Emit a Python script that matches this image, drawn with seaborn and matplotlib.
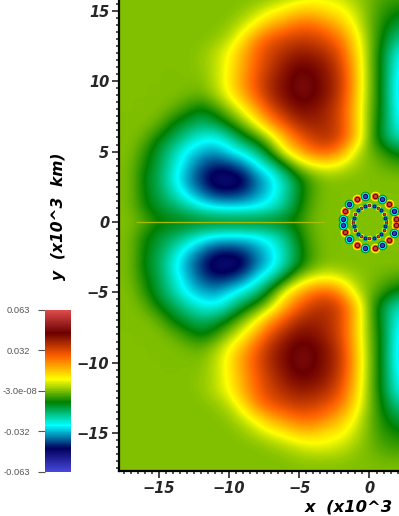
import numpy as np
import pandas as pd
import matplotlib
matplotlib.use("Agg")
import matplotlib.pyplot as plt
from matplotlib.colors import LinearSegmentedColormap, Normalize
from matplotlib.font_manager import FontProperties
from matplotlib.ticker import MultipleLocator
from matplotlib.transforms import ScaledTranslation
import seaborn as sns

# Field, in units of 0.001, columns x = -18..3, rows y = 18..0 (x10^3 km).
x_nodes = list(range(-18, 4))
upper_rows = [
    [0,0,0,0,0,0,0,0,0,0,0,0,0,0,0,0,0,0,0,0,0,0],
    [0,0,0,0,0,0,0,0,0,0,0,0,0,1,1,1,1,0,0,-1,-1,-1],
    [0,0,0,0,0,0,0,0,0,0,0,1,3,5,7,7,5,2,-1,-4,-5,-5],
    [0,0,0,0,0,0,0,0,0,1,4,8,11,15,15,12,10,5,-1,-6,-8,-9],
    [0,0,0,0,0,0,0,0,1,5,11,18,22,26,26,22,16,8,-1,-8,-13,-15],
    [0,0,0,0,0,0,0,1,4,12,23,29,32,34,33,30,24,12,0,-10,-18,-22],
    [0,0,0,0,0,0,1,4,9,18,27,33,37,40,39,36,29,15,0,-12,-25,-29],
    [0,0,0,0,0,0,1,4,10,19,28,35,41,45,44,40,32,17,0,-12,-27,-32],
    [0,0,0,0,0,0,0,4,11,21,30,38,43,48,46,41,34,18,0,-12,-29,-35],
    [0,0,0,0,0,-1,-2,2,9,18,28,37,43,47,46,41,33,17,0,-12,-29,-35],
    [0,0,0,0,-2,-6,-10,-6,1,9,20,31,38,43,42,38,31,16,-1,-12,-28,-33],
    [0,0,0,-2,-9,-13,-16,-14,-8,0,9,21,30,37,39,37,31,16,-1,-13,-26,-30],
    [0,0,-2,-9,-14,-20,-25,-26,-21,-12,-5,5,18,28,34,36,31,17,-2,-14,-22,-24],
    [0,0,-6,-13,-20,-28,-32,-34,-29,-24,-18,-6,9,18,26,28,21,6,-1,-6,-11,-12],
    [0,-1,-8,-14,-23,-31,-39,-43,-42,-37,-28,-21,-10,2,7,9,6,2,0,-2,-4,-4],
    [0,-1,-10,-15,-25,-34,-42,-49,-50,-47,-37,-30,-21,-11,-3,0,0,0,0,0,0,0],
    [0,-1,-9,-14,-21,-29,-36,-42,-43,-41,-35,-29,-21,-11,-3,0,0,0,0,0,0,0],
    [0,-1,-8,-12,-15,-19,-24,-27,-28,-28,-27,-24,-18,-9,-2,0,0,0,0,0,0,0],
    [0,0,-3,-8,-9,-9,-9,-9,-9,-9,-9,-9,-9,-6,-1,0,0,0,0,0,0,0],
]
# Rings near the origin: polar angles in degrees and sign of each lobe.
outer_ring_radius = 1.9
outer_pos_angles = [79, 43, 6.4, -6.4, -43, -79, -119, -157, 157, 119]
outer_neg_angles = [99, 61, 25, -25, -61, -99, -139, -174, 174, 139]
inner_ring_radius = 1.17
inner_pos_angles = [3, -3, 30, 60, 90, 120, 150, 177, 183, 210, 240, 270, 300, 330]
inner_neg_angles = [15, 45, 75, 105, 135, 165, 195, 225, 255, 285, 315, 345]
cut_line_x = [-16.6, -3.2]
cbar_labels = ['0.063', '0.032', '-3.0e-08', '-0.032', '-0.063']
vmax = 0.063

sns.set_style("white")
W, H = 399, 516
fig = plt.figure(figsize=(W / 100, H / 100), dpi=100, facecolor='white')

colors = [(71,71,219),(0,0,92),(0,255,255),(0,128,0),(255,255,0),(255,97,0),(107,0,0),(224,77,77)]
cmap = LinearSegmentedColormap.from_list('rainbow_desat', [tuple(c/255 for c in col) for col in colors], N=512)
norm = Normalize(-vmax, vmax)

ax = fig.add_axes([119/W, (H-471)/H, 280/W, 471/H])
upper = np.array(upper_rows) * 0.001
field = np.vstack([upper, upper[-2::-1]])
ax.imshow(field, extent=[-18.5, 3.5, -18.5, 18.5], origin='upper', cmap=cmap, norm=norm,
          interpolation='bicubic', interpolation_stage='data', aspect='auto')
ax.set_xlim(-17.83, 2.1)
ax.set_ylim(-17.7, 15.77)

ax.plot(cut_line_x, [0, 0], color=(0.66, 0.74, 0.0), lw=0.9, solid_capstyle='butt', zorder=3)


def ring(angles, radius):
    a = np.deg2rad(np.array(angles))
    return pd.DataFrame({'x': radius * np.cos(a), 'y': radius * np.sin(a)})


def lobes(frame, layers):
    for level, px in layers:
        sns.scatterplot(data=frame, x='x', y='y', ax=ax, s=(px * 0.72) ** 2, marker='o',
                        color=cmap(norm(level)), linewidth=0, legend=False, zorder=4)


lobes(ring(outer_pos_angles, outer_ring_radius), [(0.009, 9.6), (0.027, 7.4), (0.045, 5.4), (0.06, 3.4)])
lobes(ring(outer_neg_angles, outer_ring_radius), [(-0.012, 9.6), (-0.027, 7.4), (-0.045, 5.4), (-0.06, 3.4)])
lobes(ring(inner_pos_angles, inner_ring_radius), [(0.009, 5.4), (0.045, 3.6), (0.06, 2.2)])
lobes(ring(inner_neg_angles, inner_ring_radius), [(-0.018, 5.4), (-0.045, 3.6), (-0.06, 2.2)])
ax.set_xlabel('')
ax.set_ylabel('')

font = dict(family='DejaVu Sans', weight='bold', style='italic', color='black')
for s in ['top', 'right']:
    ax.spines[s].set_visible(False)
for s in ['left', 'bottom']:
    ax.spines[s].set_visible(True)
    ax.spines[s].set_linewidth(1.6)
    ax.spines[s].set_color('black')
ax.xaxis.set_major_locator(MultipleLocator(5))
ax.yaxis.set_major_locator(MultipleLocator(5))
ax.xaxis.set_minor_locator(MultipleLocator(0.5))
ax.yaxis.set_minor_locator(MultipleLocator(0.5))
ax.tick_params(which='major', direction='out', length=5, width=1.2, bottom=True, left=True, pad=2, labelsize=10.5)
ax.tick_params(which='minor', direction='out', length=2.5, width=1.1, bottom=True, left=True)
for t in ax.get_xticklabels() + ax.get_yticklabels():
    t.set_fontproperties(FontProperties(family='DejaVu Sans', weight='bold', style='italic', size=10.5))

fig.text(305/W, (H-512)/H, 'x  (x10^3  km)', ha='left', va='baseline', fontsize=11.8, **font)
fig.text(58/W, (H-216)/H, 'y  (x10^3  km)', ha='center', va='center', rotation=90, fontsize=11.2, **font)

cax = fig.add_axes([45/W, (H-471.7)/H, 26/W, 162/H])
gradient = pd.DataFrame(np.linspace(vmax, -vmax, 256).reshape(-1, 1))
sns.heatmap(gradient, ax=cax, cmap=cmap, norm=norm, cbar=False, xticklabels=False, yticklabels=False)
cax.set_yticks([0, 64, 128, 192, 256])
cax.set_yticklabels(cbar_labels, fontsize=6.7, family='Liberation Sans', color='#555555', rotation=0)
cax.tick_params(axis='y', left=True, length=5, width=0.8, color='#555555', pad=5.8)
cax.set_xticks([])
mid = cax.get_yticklabels()[2]
mid.set_transform(mid.get_transform() + ScaledTranslation(5 / 72, 0, fig.dpi_scale_trans))

fig.savefig('out.png', dpi=100)
